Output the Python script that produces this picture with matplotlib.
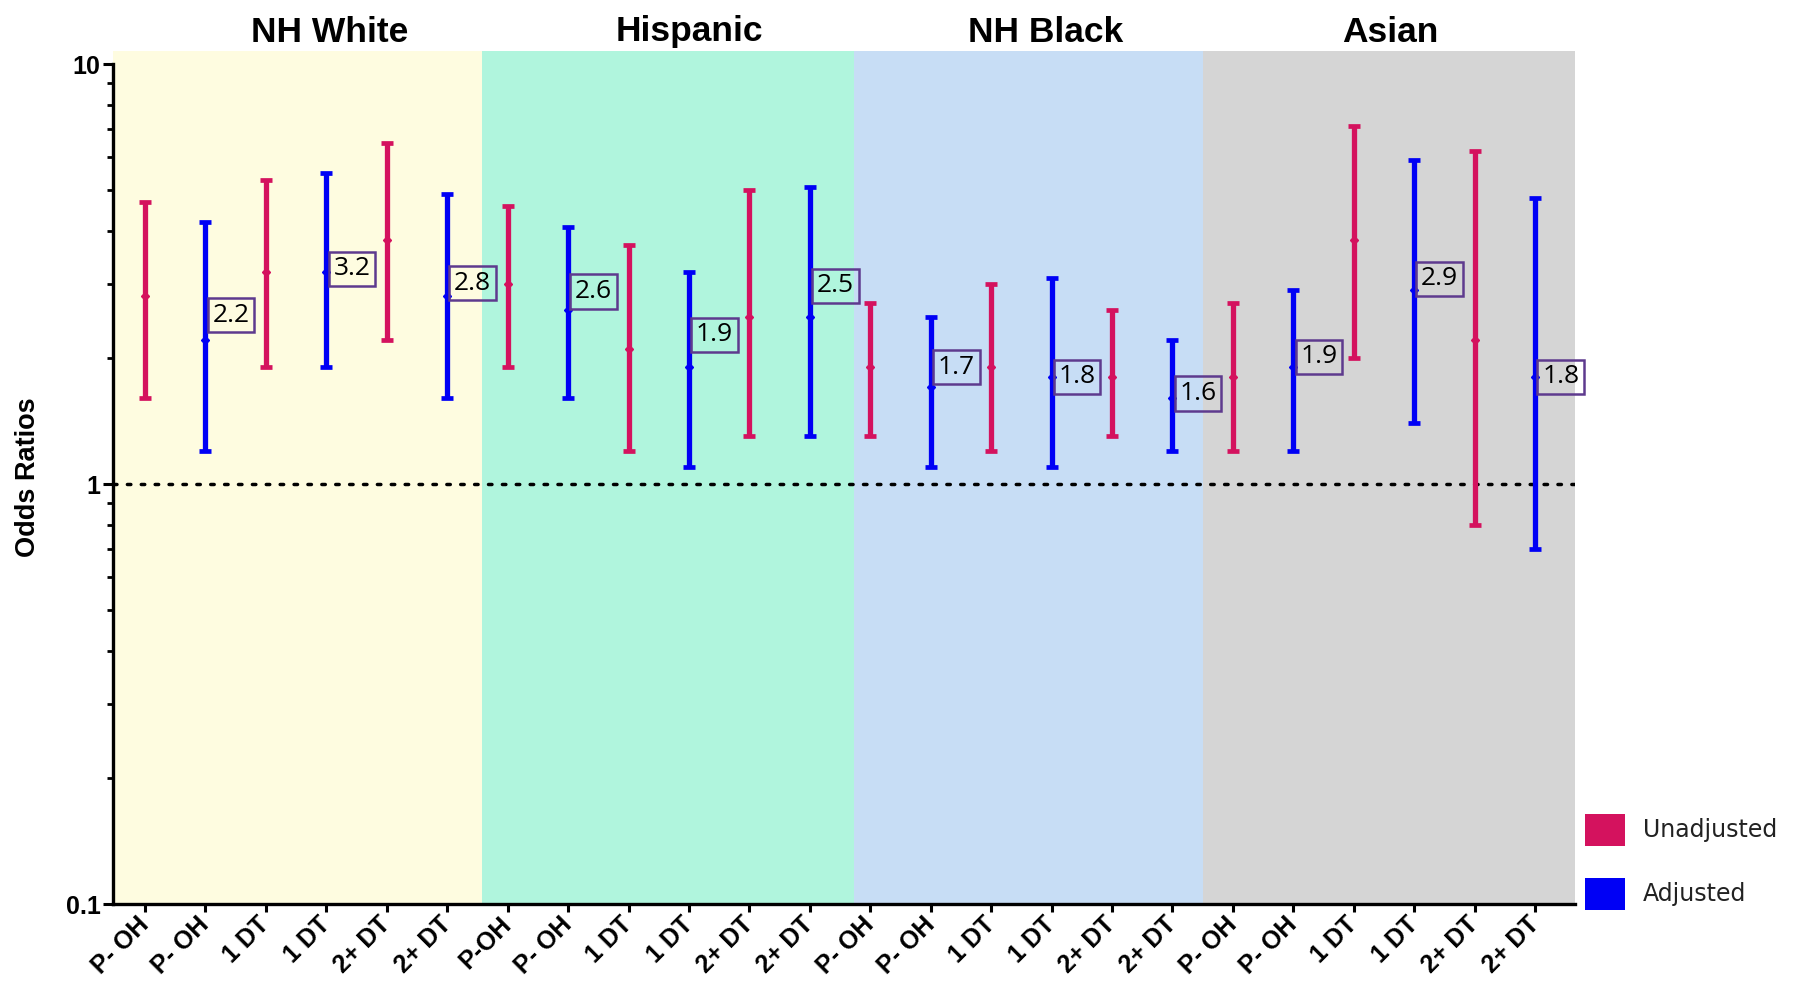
import matplotlib
matplotlib.use("Agg")
import matplotlib.pyplot as plt
import matplotlib.transforms as mtransforms
import numpy as np
from matplotlib.patches import Rectangle
from matplotlib.ticker import LogLocator, NullFormatter, FixedLocator, FixedFormatter

# ---------------- data ----------------
groups = ["NH White", "Hispanic", "NH Black", "Asian"]
tick_labels = ["P- OH", "P- OH", "1 DT", "1 DT", "2+ DT", "2+ DT",
               "P-OH", "P- OH", "1 DT", "1 DT", "2+ DT", "2+ DT",
               "P- OH", "P- OH", "1 DT", "1 DT", "2+ DT", "2+ DT",
               "P- OH", "P- OH", "1 DT", "1 DT", "2+ DT", "2+ DT"]
# alternating series: even index = Unadjusted, odd index = Adjusted
odds = [2.8, 2.2, 3.2, 3.2, 3.8, 2.8,
        3.0, 2.6, 2.1, 1.9, 2.5, 2.5,
        1.9, 1.7, 1.9, 1.8, 1.8, 1.6,
        1.8, 1.9, 3.8, 2.9, 2.2, 1.8]
ci_low = [1.6, 1.2, 1.9, 1.9, 2.2, 1.6,
          1.9, 1.6, 1.2, 1.1, 1.3, 1.3,
          1.3, 1.1, 1.2, 1.1, 1.3, 1.2,
          1.2, 1.2, 2.0, 1.4, 0.8, 0.7]
ci_high = [4.7, 4.2, 5.3, 5.5, 6.5, 4.9,
           4.6, 4.1, 3.7, 3.2, 5.0, 5.1,
           2.7, 2.5, 3.0, 3.1, 2.6, 2.2,
           2.7, 2.9, 7.1, 5.9, 6.2, 4.8]
series_names = ["Unadjusted", "Adjusted"]

# ---------------- style / layout ----------------
RED = "#D4125E"
BLUE = "#0000F5"
BG = ["#FEFCE0", "#B0F5DD", "#C7DDF5", "#D5D5D5"]
bg_edges = [-0.53, 5.58, 11.73, 17.51, 23.66]
title_x = [3.05, 9.0, 14.9, 20.6]
label_dy_px = [25, 3, 13, 18, 32, 31, 20, 0, 5, 10, 11, 0]
PX = 72 / 100.0  # points per pixel at dpi 100

fig = plt.figure(figsize=(17.93, 9.94), dpi=100)
ax = fig.add_axes([113 / 1793, 90 / 994, (1575 - 113) / 1793, (904 - 51) / 994])

n = len(odds)
x = np.arange(n)
ax.set_xlim(bg_edges[0], bg_edges[-1])
ax.set_yscale("log")
ytop = 10 ** ((484 - 51) / 420)
ax.set_ylim(0.1, ytop)

for i in range(4):
    ax.axvspan(bg_edges[i], bg_edges[i + 1], color=BG[i], lw=0, zorder=0)

ax.axhline(1, color="black", lw=2.5, ls=(0, (1, 3.0)), zorder=1,
           dash_capstyle="round")

odds_a = np.array(odds)
lo_a = np.array(ci_low)
hi_a = np.array(ci_high)
for s, col in enumerate([RED, BLUE]):
    idx = x[s::2]
    ax.errorbar(idx, odds_a[s::2],
                yerr=[odds_a[s::2] - lo_a[s::2], hi_a[s::2] - odds_a[s::2]],
                fmt="D", ms=4, color=col, ecolor=col, elinewidth=3.8,
                capsize=4.5, capthick=3.4, zorder=3)

# value boxes for adjusted series
for k, i in enumerate(x[1::2]):
    ax.annotate(f"{odds[i]:.1f}", xy=(i, odds[i]),
                xytext=(7 * PX, label_dy_px[k] * PX), textcoords="offset points",
                ha="left", va="center", fontsize=19, family="Open Sans",
                zorder=5,
                bbox=dict(boxstyle="square,pad=0.18", fc="none",
                          ec="#5E3A8E", lw=1.8))

# axes styling
for sp in ["top", "right"]:
    ax.spines[sp].set_visible(False)
ax.spines["left"].set_linewidth(2.4)
ax.spines["bottom"].set_linewidth(2.4)
ax.spines["left"].set_bounds(0.1, 10)

ax.yaxis.set_major_locator(FixedLocator([0.1, 1, 10]))
ax.yaxis.set_major_formatter(FixedFormatter(["0.1", "1", "10"]))
ax.yaxis.set_minor_locator(LogLocator(base=10, subs=np.arange(2, 10)))
ax.yaxis.set_minor_formatter(NullFormatter())
ax.tick_params(axis="y", which="major", length=7, width=2.2, pad=2,
               labelsize=18)
ax.tick_params(axis="y", which="minor", length=4.5, width=2.0)
for t in ax.get_yticklabels():
    t.set_fontweight("bold")
    t.set_family("Liberation Sans")

ax.set_xticks(x)
ax.set_xticklabels(tick_labels, rotation=45, ha="right", va="center",
                   rotation_mode="anchor", fontsize=18, family="Liberation Sans",
                   fontweight="bold")
ax.tick_params(axis="x", length=6, width=2.2, pad=6)

ax.set_ylabel("Odds Ratios", fontsize=19.5, fontweight="bold",
              family="Liberation Sans", labelpad=18)

tr = mtransforms.blended_transform_factory(ax.transData, fig.transFigure)
for g, tx in zip(groups, title_x):
    ax.text(tx, 1 - 32 / 994, g, transform=tr,
            ha="center", va="center", fontsize=25.5, fontweight="bold",
            family="Liberation Sans")

# legend (manual)
for col, name, yc in [(RED, series_names[0], 830), (BLUE, series_names[1], 894)]:
    fig.add_artist(Rectangle((1585 / 1793, (994 - yc - 16) / 994), 40 / 1793, 32 / 994,
                             transform=fig.transFigure, fc=col, ec="none"))
    fig.text(1643 / 1793, (994 - yc) / 994, name, ha="left", va="center",
             fontsize=17, family="DejaVu Sans", color="#222222")

fig.savefig("out.png", dpi=100)
